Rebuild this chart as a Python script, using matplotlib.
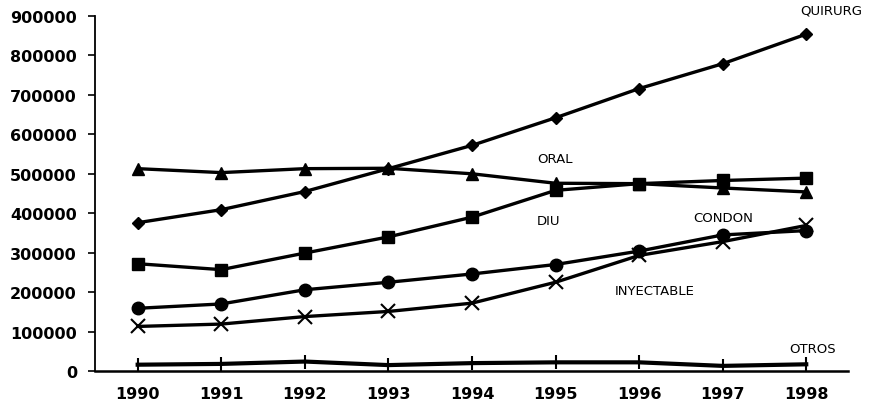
import numpy as np
import matplotlib.pyplot as plt

years = [1990, 1991, 1992, 1993, 1994, 1995, 1996, 1997, 1998]
quirurg = [376000, 409000, 455000, 513000, 572000, 642000, 716000, 779000, 854000]
oral = [513000, 503000, 513000, 514000, 500000, 476000, 475000, 464000, 454000]
diu = [272000, 257000, 299000, 340000, 390000, 458000, 475000, 483000, 489000]
condon = [159000, 170000, 206000, 225000, 246000, 270000, 304000, 345000, 356000]
inyectable = [113000, 119000, 138000, 151000, 172000, 225000, 293000, 328000, 369000]
otros = [16000, 18000, 24000, 15000, 20000, 22000, 22000, 13000, 17000]
yticks = [0, 100000, 200000, 300000, 400000, 500000, 600000, 700000, 800000, 900000]

fig = plt.figure(figsize=(8.72, 4.02), dpi=100)
ax = fig.add_axes([0.109, 0.0746, 0.8635, 0.8831])

lw = 2.4
ax.plot(years, quirurg, color='black', lw=lw, marker='D', ms=6.5)
ax.plot(years, oral, color='black', lw=lw, marker='^', ms=9)
ax.plot(years, diu, color='black', lw=lw, marker='s', ms=9)
ax.plot(years, condon, color='black', lw=lw, marker='o', ms=9)
ax.plot(years, inyectable, color='black', lw=lw, marker='x', ms=10, mew=1.5)
ax.plot(years, otros, color='black', lw=3, marker='|', ms=10, mew=1.5)

# series labels
lab = dict(fontsize=9.5, color='black', va='center')
ax.text(1997.93, 914000, 'QUIRURG', ha='left', clip_on=False, **lab)
ax.text(1994.78, 538000, 'ORAL', **lab)
ax.text(1994.78, 381000, 'DIU', **lab)
ax.text(1996.65, 388000, 'CONDON', **lab)
ax.text(1995.71, 203000, 'INYECTABLE', **lab)
ax.text(1997.8, 56000, 'OTROS', **lab)

ax.set_xlim(1989.49, 1998.5)
ax.set_ylim(0, 900000)
ax.set_xticks(years)
ax.set_xticklabels([str(y) for y in years], fontsize=11.5, fontweight='bold')
ax.set_yticks(yticks)
ax.set_yticklabels([str(v) for v in yticks], fontsize=11.5, fontweight='bold')
ax.tick_params(axis='y', length=5, width=1.2, pad=8)
ax.tick_params(axis='x', length=0, pad=11)
ax.spines['top'].set_visible(False)
ax.spines['right'].set_visible(False)
ax.spines['left'].set_linewidth(1.3)
ax.spines['bottom'].set_linewidth(1.8)

plt.savefig('out.png', dpi=100)
plt.close()
